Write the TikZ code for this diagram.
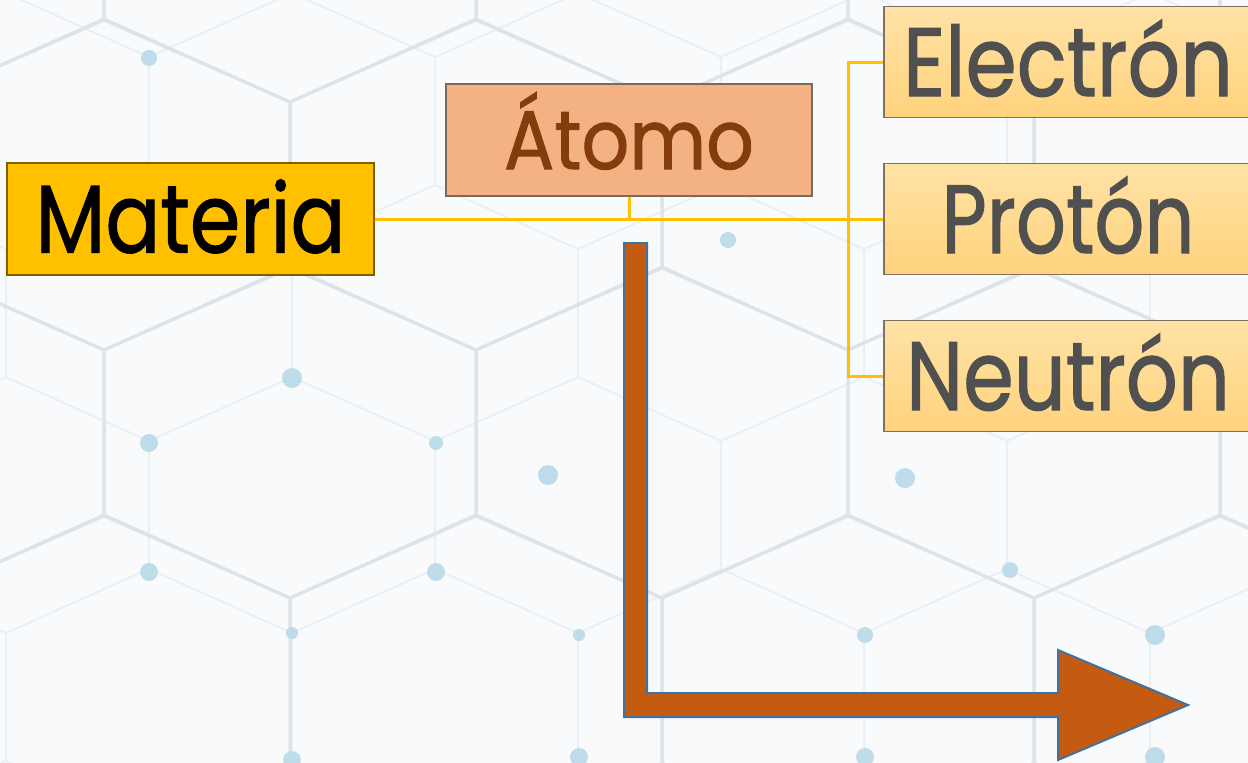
\documentclass[tikz,border=0pt]{standalone}
\usepackage{fontspec}
\newfontfamily\lblfont{Poppins}[FakeBold=1.2]
\definecolor{bgcol}{HTML}{F8FAFC}
\definecolor{hexmain}{HTML}{DCE3EA}
\definecolor{hexsub}{HTML}{EAEFF3}
\definecolor{dotcol}{HTML}{BFDCEB}
\definecolor{matfill}{HTML}{FFC000}
\definecolor{matline}{HTML}{7F6000}
\definecolor{atofill}{HTML}{F4B183}
\definecolor{atoline}{HTML}{7A6A5E}
\definecolor{atotext}{HTML}{843C0C}
\definecolor{subtop}{HTML}{FFE2A6}
\definecolor{subbot}{HTML}{FFD37D}
\definecolor{subline}{HTML}{7F7262}
\definecolor{subtext}{HTML}{505050}
\definecolor{conncol}{HTML}{FFC000}
\definecolor{arrfill}{HTML}{C55A11}
\definecolor{arrline}{HTML}{41719C}
\tikzset{
  hexl/.style={draw=hexmain, line width=3pt, line join=round},
  hexs/.style={draw=hexsub, line width=1.5pt, line join=round},
  bgdot/.style={fill=dotcol},
  conceptbox/.style={draw, line width=1.2pt, inner sep=0pt, text depth=0pt},
  subbox/.style={conceptbox, draw=subline, top color=subtop, bottom color=subbot,
     text=subtext, minimum width=368pt, minimum height=111pt, text height=68pt},
  conn/.style={draw=conncol, line width=3pt},
}
\newcommand{\lbltext}[3]{\resizebox{#1}{\height}{\lblfont\fontsize{#2}{#2}\selectfont #3}}
\begin{document}
\begin{tikzpicture}[x=1pt,y=-1pt]
\clip (0,0) rectangle (1248,763);
\fill[bgcol] (0,0) rectangle (1248,763);
% secondary faint hex grid
\foreach \r in {-3,...,2} {
  \foreach \n in {-2,...,4} {
    \pgfmathsetmacro\cy{505+192*\r}
    \pgfmathsetmacro\cx{292+286*\n+143*mod(abs(\r),2)}
    \draw[hexs] (\cx,\cy) +(0,-128) -- +(143,-64) -- +(143,64) -- +(0,128) -- +(-143,64) -- +(-143,-64) -- cycle;
  }
}
% main hex grid
\foreach \r in {-2,...,2} {
  \foreach \n in {-1,...,3} {
    \pgfmathsetmacro\cy{433+248*\r}
    \pgfmathsetmacro\cx{290+372*\n-186*mod(abs(\r),2)}
    \draw[hexl] (\cx,\cy) +(0,-165) -- +(186,-83) -- +(186,82) -- +(0,165) -- +(-186,82) -- +(-186,-83) -- cycle;
  }
}
% dots
\foreach \dx/\dy/\ds in {292/378/10, 149/443/9, 436/443/7, 149/572/9, 436/572/9, 292/633/6,
   579/635/6, 292/760/9, 579/757/9, 865/635/8, 865/757/9, 1010/570/8, 1155/635/10,
   1155/757/10, 149/58/8, 728/240/8, 905/478/10, 548/475/10} {
  \fill[bgdot] (\dx,\dy) circle (\ds);
}
% nodes
\node[conceptbox, fill=matfill, draw=matline, text=black,
      minimum width=367pt, minimum height=112pt, text height=67pt]
      (mat) at (190.5,219) {\lbltext{310pt}{96}{Materia}};
\node[conceptbox, fill=atofill, draw=atoline, text=atotext,
      minimum width=366pt, minimum height=112pt, text height=58pt]
      (ato) at (629,140) {\lbltext{250pt}{83}{Átomo}};
\node[subbox] (ele) at (1068,62) {\lbltext{330pt}{97}{Electrón}};
\node[subbox] (pro) at (1068,219) {\lbltext{253pt}{97}{Protón}};
\node[subbox] (neu) at (1068,376) {\lbltext{324pt}{97}{Neutrón}};
% connectors
\coordinate (bus) at (848,219);
\draw[conn] (mat.east) -- (pro.west);
\draw[conn] (ato.south) -- (ato.south |- mat.east);
\draw[conn] (ele.west) -- (ele.west -| bus) -- (neu.west -| bus) -- (neu.west);
% big bent arrow
\draw[fill=arrfill, draw=arrline, line width=2pt, line join=miter]
  (624,243) -- (624,717) -- (1058,717) -- (1058,760) -- (1188,705)
  -- (1058,650) -- (1058,693) -- (647,693) -- (647,243) -- cycle;
\end{tikzpicture}
\end{document}
